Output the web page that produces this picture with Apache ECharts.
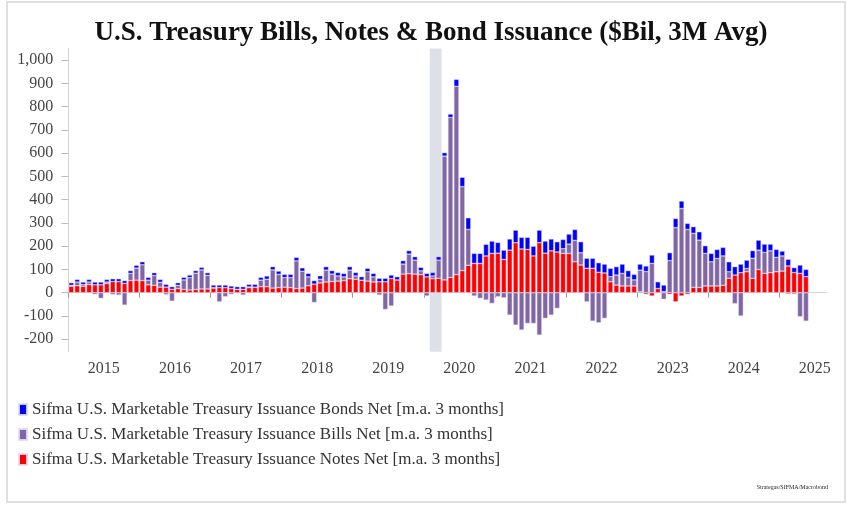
<!DOCTYPE html>
<html><head><meta charset="utf-8">
<script src="https://cdn.jsdelivr.net/npm/echarts@6/dist/echarts.min.js"></script>
<style>html,body{margin:0;padding:0;background:#fff}#c{width:862px;height:505px}</style>
</head><body><div id="c"></div>
<script>
// Monthly, Jan 2015 .. May 2025 (3M moving averages, $Bil)
const years = [2015,2016,2017,2018,2019,2020,2021,2022,2023,2024,2025];
const yTicks = [-200,-100,0,100,200,300,400,500,600,700,800,900,1000];
const notes = [
 28,30,28,35,34,34,40,48,48,40,52,54,
 52,34,32,24,24,15,18,14,12,14,16,16,
 20,22,22,18,15,15,22,24,26,26,20,22,
 24,22,18,20,30,37,42,46,48,50,52,60,
 58,54,50,46,47,47,61,55,80,82,80,78,
 68,60,62,55,66,78,95,118,126,126,158,169,
 170,143,183,215,188,186,158,215,170,180,175,169,
 169,133,119,105,105,88,85,47,33,29,29,29,
 4,-7,-14,18,5,-7,-39,-14,-7,23,23,29,
 29,29,32,62,76,86,90,62,100,83,86,90,
 93,115,87,83,69
];
const bills = [
 4,16,7,11,-7,-24,6,-8,-10,-53,31,52,
 68,20,42,21,-8,-36,14,41,53,70,82,59,
 2,-39,-17,-7,0,-10,3,0,28,32,78,57,
 41,43,119,72,38,-42,16,51,32,22,16,37,
 14,0,40,22,-10,-72,-57,0,43,84,60,16,
 -14,12,78,532,687,809,361,154,-14,-24,-31,-46,
 -17,-22,-96,-139,-160,-132,-132,-182,-110,-96,-67,20,
 40,92,53,-39,-122,-129,-110,22,43,54,37,26,
 93,91,126,0,-28,138,280,362,272,232,203,140,
 104,118,126,28,-47,-100,14,86,83,90,94,62,
 65,-6,-6,-103,-122
];
const bonds = [
 11,11,11,11,12,12,11,12,12,12,12,12,
 13,12,12,12,12,11,11,11,11,11,11,11,
 11,11,11,11,11,11,11,12,12,14,14,14,
 14,14,15,15,15,15,15,15,15,15,15,15,
 15,15,15,15,15,15,15,14,15,15,15,15,
 15,15,15,15,15,30,40,50,43,43,50,53,
 46,40,48,54,50,52,42,54,52,51,44,40,
 43,47,47,43,43,41,38,36,36,40,29,24,
 26,24,36,29,28,34,39,32,26,29,36,33,
 36,39,37,43,36,37,36,33,43,36,29,34,
 21,29,21,36,31
];
const recession = [61, 63]; // months since Jan 2015: Feb 2020 .. end of Mar 2020
const axisMonths = 128;      // axis runs Jan 2015 .. Aug 2025
const seriesNames = [
 'Sifma U.S. Marketable Treasury Issuance Bonds Net [m.a. 3 months]',
 'Sifma U.S. Marketable Treasury Issuance Bills Net [m.a. 3 months]',
 'Sifma U.S. Marketable Treasury Issuance Notes Net [m.a. 3 months]'
];
const colors = {bonds:'#0000ff', bills:'#8166a6', notes:'#ff0000'};

const months = [];
for (let i = 0; i < axisMonths; i++) {
  months.push(years[0] + Math.floor(i/12) + '-' + String(i%12+1).padStart(2,'0'));
}
const font = "'Liberation Serif', 'Times New Roman', serif";
const chart = echarts.init(document.getElementById('c'), null, {renderer:'canvas'});
const barStyle = c => ({color:c, borderColor:'rgba(225,220,245,0.9)', borderWidth:0.5});
chart.setOption({
  animation:false,
  backgroundColor:'#fff',
  title:{text:'U.S. Treasury Bills, Notes & Bond Issuance ($Bil, 3M Avg)', left:'center', top:15,
    textStyle:{fontFamily:font, fontWeight:'bold', fontSize:27, color:'#111'}},
  legend:{orient:'vertical', left:13, top:396, itemWidth:8, itemHeight:11, itemGap:8, icon:'rect',
    data:seriesNames, textStyle:{fontFamily:font, fontSize:17, color:'#333'}},
  grid:{left:68.3, right:35.3, top:48.4, bottom:153.3},
  xAxis:[
    {type:'value', min:0, max:axisMonths,
     axisLine:{show:true, lineStyle:{color:'#d4d4d4', width:1}},
     splitLine:{show:false},
     axisTick:{show:true, length:5, customValues:years.map((y,k)=>k*12), lineStyle:{color:'#999'}},
     axisLabel:{customValues:years.map((y,k)=>k*12+6), margin:9, fontFamily:font, fontSize:16, color:'#444',
       formatter:v=>String(years[Math.round((v-6)/12)])}},
    {type:'category', data:months, show:false, boundaryGap:true}
  ],
  yAxis:{type:'value', min:-253.5, max:1050,
    axisLine:{show:true, lineStyle:{color:'#d4d4d4', width:1}},
    splitLine:{show:false},
    axisTick:{show:true, length:7, customValues:yTicks, lineStyle:{color:'#bbb'}},
    axisLabel:{customValues:yTicks, margin:15, fontFamily:font, fontSize:16, color:'#444',
      formatter:v=>v.toLocaleString('en-US')}},
  series:[
    {type:'line', xAxisIndex:0, data:[], silent:true,
     markArea:{silent:true, itemStyle:{color:'#dde0e7'}, data:[[{xAxis:recession[0]},{xAxis:recession[1]}]]}},
    {name:seriesNames[2], type:'bar', xAxisIndex:1, stack:'s', barWidth:5, data:notes, itemStyle:barStyle(colors.notes)},
    {name:seriesNames[1], type:'bar', xAxisIndex:1, stack:'s', barWidth:5, data:bills, itemStyle:barStyle(colors.bills)},
    {name:seriesNames[0], type:'bar', xAxisIndex:1, stack:'s', barWidth:5, data:bonds, itemStyle:barStyle(colors.bonds)}
  ],
  graphic:[
    {type:'rect', shape:{x:7, y:2, width:838, height:500}, style:{fill:'none', stroke:'#d6d6d6', lineWidth:1.5}, silent:true},
    {type:'text', right:34, top:484, style:{text:'Strategas/SIFMA/Macrobond', font:"6px "+font, fill:'#222'}}
  ]
});
</script></body></html>
